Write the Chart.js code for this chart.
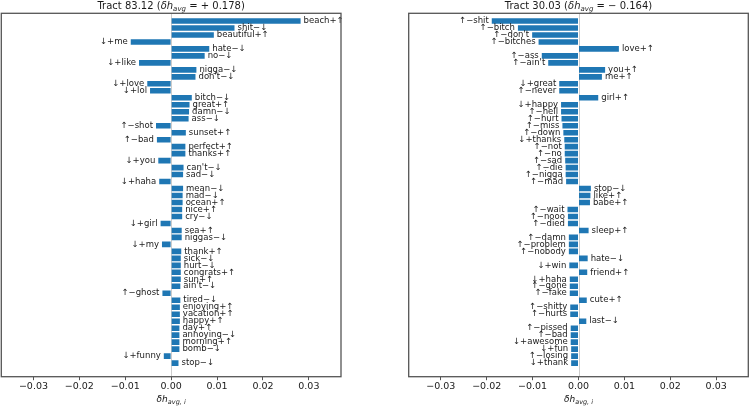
<!DOCTYPE html>
<html>
<head>
<meta charset="utf-8">
<script src="https://cdn.jsdelivr.net/npm/chart.js@4"></script>
<style>
  html, body { margin: 0; padding: 0; background: #fff; }
  #wrap { position: relative; width: 750px; height: 406px; }
  canvas { position: absolute; top: 0; }
  #c1 { left: 0; }
  #c2 { left: 375px; }
</style>
</head>
<body>
<div id="wrap">
  <canvas id="c1" width="375" height="406"></canvas>
  <canvas id="c2" width="375" height="406"></canvas>
</div>
<script>
// ---- Data ----
const leftTract = "Tract 83.12";
const leftDelta = "+ 0.178";
const leftLabels = ["beach+↑","shit−↓","beautiful+↑","↓+me","hate−↓","no−↓","↓+like","nigga−↓","don't−↓","↓+love","↓+lol","bitch−↓","great+↑","damn−↓","ass−↓","↑−shot","sunset+↑","↑−bad","perfect+↑","thanks+↑","↓+you","can't−↓","sad−↓","↓+haha","mean−↓","mad−↓","ocean+↑","nice+↑","cry−↓","↓+girl","sea+↑","niggas−↓","↓+my","thank+↑","sick−↓","hurt−↓","congrats+↑","sun+↑","ain't−↓","↑−ghost","tired−↓","enjoying+↑","vacation+↑","happy+↑","day+↑","annoying−↓","morning+↑","bomb−↓","↓+funny","stop−↓"];
const leftValues = [0.0282,0.0138,0.0093,-0.0088,0.0083,0.0073,-0.0070,0.0055,0.0053,-0.0052,-0.0046,0.0045,0.0040,0.0039,0.0038,-0.0033,0.0032,-0.0031,0.0031,0.0031,-0.0028,0.0027,0.0026,-0.0026,0.0026,0.0025,0.0025,0.0024,0.0024,-0.0023,0.0023,0.0023,-0.0020,0.0022,0.0021,0.0021,0.0021,0.0021,0.0020,-0.0019,0.0020,0.0019,0.0019,0.0019,0.0018,0.0018,0.0018,0.0018,-0.0016,0.0016];

const rightTract = "Tract 30.03";
const rightDelta = "− 0.164";
const rightLabels = ["↑−shit","↑−bitch","↑−don't","↑−bitches","love+↑","↑−ass","↑−ain't","you+↑","me+↑","↓+great","↑−never","girl+↑","↓+happy","↑−hell","↑−hurt","↑−miss","↑−down","↓+thanks","↑−not","↑−no","↑−sad","↑−die","↑−nigga","↑−mad","stop−↓","like+↑","babe+↑","↑−wait","↑−nooo","↑−died","sleep+↑","↑−damn","↑−problem","↑−nobody","hate−↓","↓+win","friend+↑","↓+haha","↑−gone","↑−fake","cute+↑","↑−shitty","↑−hurts","last−↓","↑−pissed","↑−bad","↓+awesome","↓+fun","↑−losing","↓+thank"];
const rightValues = [-0.0189,-0.0132,-0.0101,-0.0087,0.0088,-0.0080,-0.0066,0.0058,0.0051,-0.0042,-0.0042,0.0043,-0.0038,-0.0038,-0.0037,-0.0035,-0.0033,-0.0031,-0.0030,-0.0030,-0.0029,-0.0028,-0.0028,-0.0027,0.0027,0.0026,0.0025,-0.0024,-0.0023,-0.0023,0.0022,-0.0021,-0.0021,-0.0021,0.0020,-0.0020,0.0019,-0.0019,-0.0019,-0.0019,0.0018,-0.0018,-0.0018,0.0017,-0.0017,-0.0017,-0.0017,-0.0016,-0.0016,-0.0016];

const tickValues = [-0.03,-0.02,-0.01,0,0.01,0.02,0.03];
const tickLabels = ["−0.03","−0.02","−0.01","0.00","0.01","0.02","0.03"];

// ---- Rendering ----
const FONT = "'DejaVu Sans', sans-serif";
const BAR = "#1f77b4";

function drawSegments(ctx, cx, cy, segs) {
  let total = 0;
  segs.forEach(s => { ctx.font = s.font; s.w = ctx.measureText(s.t).width; total += s.w; });
  let x = cx - total / 2;
  ctx.textAlign = "left";
  ctx.textBaseline = "middle";
  segs.forEach(s => { ctx.font = s.font; ctx.fillText(s.t, x, cy + (s.dy || 0)); x += s.w; });
}

const panelPlugin = {
  id: "panel",
  beforeDatasetsDraw(chart) {
    const ctx = chart.ctx, a = chart.chartArea;
    const x0 = chart.scales.x.getPixelForValue(0);
    ctx.save();
    ctx.strokeStyle = "#cccccc";
    ctx.lineWidth = 1;
    ctx.beginPath();
    ctx.moveTo(Math.round(x0) + 0.5, a.top);
    ctx.lineTo(Math.round(x0) + 0.5, a.bottom);
    ctx.stroke();
    ctx.restore();
  },
  afterDatasetsDraw(chart) {
    const ctx = chart.ctx;
    const o = chart.options.plugins.panel;
    const meta = chart.getDatasetMeta(0);
    ctx.save();
    ctx.fillStyle = "#1a1a1a";
    ctx.font = "8.5px " + FONT;
    ctx.textBaseline = "middle";
    meta.data.forEach((el, i) => {
      const v = o.values[i];
      if (v >= 0) { ctx.textAlign = "left"; ctx.fillText(o.labels[i], el.x + 3, el.y); }
      else { ctx.textAlign = "right"; ctx.fillText(o.labels[i], el.x - 3, el.y); }
    });
    ctx.restore();
  },
  afterDraw(chart) {
    const ctx = chart.ctx, a = chart.chartArea;
    const o = chart.options.plugins.panel;
    ctx.save();
    ctx.strokeStyle = "#555555";
    ctx.lineWidth = 1.3;
    ctx.strokeRect(a.left, a.top, a.right - a.left, a.bottom - a.top);
    ctx.fillStyle = "#1a1a1a";
    const cx = (a.left + a.right) / 2;
    drawSegments(ctx, cx, 6, [
      { t: o.tract + " (", font: "10px " + FONT },
      { t: "δh", font: "italic 10px " + FONT },
      { t: "avg", font: "italic 7px " + FONT, dy: 3 },
      { t: " = " + o.delta + ")", font: "10px " + FONT }
    ]);
    drawSegments(ctx, cx, 400, [
      { t: "δh", font: "italic 9px " + FONT },
      { t: "avg, i", font: "italic 6.5px " + FONT, dy: 2.5 }
    ]);
    ctx.restore();
  }
};

function makeChart(id, labels, values, tract, delta, pad) {
  return new Chart(document.getElementById(id), {
    type: "bar",
    data: {
      datasets: [{
        data: values.map((v, i) => ({ x: v, y: i })),
        backgroundColor: BAR,
        borderWidth: 0,
        barPercentage: 0.8,
        categoryPercentage: 1.0
      }]
    },
    options: {
      indexAxis: "y",
      responsive: false,
      animation: false,
      layout: { padding: pad },
      plugins: {
        legend: { display: false },
        tooltip: { enabled: false },
        title: { display: false },
        panel: { labels, values, tract, delta }
      },
      scales: {
        x: {
          type: "linear",
          min: -0.037, max: 0.037,
          afterBuildTicks: s => { s.ticks = tickValues.map(v => ({ value: v })); },
          grid: { display: true, drawOnChartArea: false, drawTicks: true, tickLength: 3.5, color: "#555555", lineWidth: 1 },
          border: { display: false },
          ticks: {
            font: { family: FONT, size: 9.5 },
            color: "#1a1a1a",
            padding: 1,
            maxRotation: 0,
            autoSkip: false,
            callback: (v, i) => tickLabels[i]
          }
        },
        y: {
          type: "linear",
          reverse: true,
          offset: false,
          grid: { offset: false },
          min: -1.1, max: 50.95,
          display: false
        }
      }
    },
    plugins: [panelPlugin]
  });
}

makeChart("c1", leftLabels, leftValues, leftTract, leftDelta, { left: 1.3, right: 34, top: 13.3, bottom: 12.4 });
makeChart("c2", rightLabels, rightValues, rightTract, rightDelta, { left: 33.7, right: 1.7, top: 13.3, bottom: 12.4 });
</script>
</body>
</html>
